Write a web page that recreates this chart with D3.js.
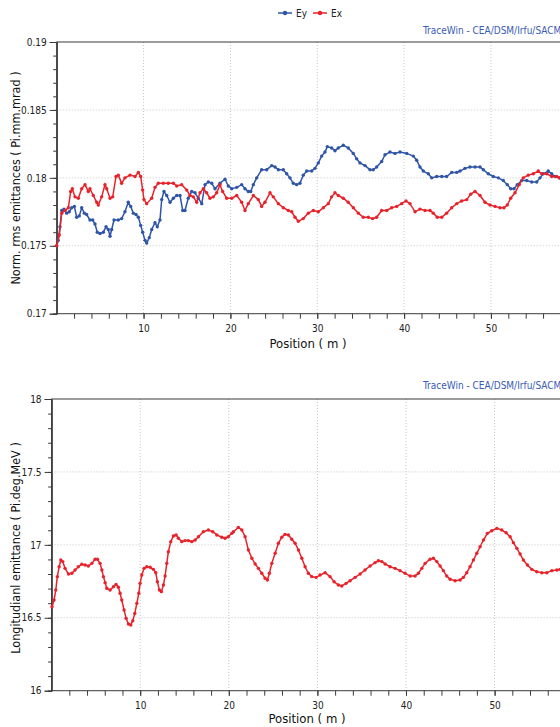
<!DOCTYPE html>
<html><head><meta charset="utf-8">
<script src="https://cdn.jsdelivr.net/npm/d3@7"></script>
<style>
html,body{margin:0;padding:0;background:#fff;overflow:hidden}
svg{display:block}
text{font-family:"DejaVu Sans Condensed","Liberation Sans",sans-serif;font-stretch:condensed}
</style></head>
<body><svg id="c" width="560" height="727"></svg>
<script>
// ---- data ----
const eyPos = [0.00,0.18,0.38,0.58,0.84,1.15,1.45,1.73,2.03,2.30,2.60,2.88,3.18,3.45,3.83,4.15,4.41,4.67,4.99,5.37,5.68,5.94,6.14,6.33,6.60,7.09,7.48,7.86,8.24,8.52,8.82,9.13,9.40,9.67,9.90,10.17,10.36,10.66,10.94,11.32,11.58,11.89,12.09,12.35,12.67,13.05,13.43,13.82,14.20,14.51,14.77,15.15,15.54,15.92,16.30,16.70,17.08,17.46,17.85,18.23,18.80,19.38,19.76,20.15,20.73,21.30,21.68,22.06,22.34,22.64,23.03,23.60,24.18,24.76,25.14,25.52,26.09,26.48,26.86,27.24,27.63,28.01,28.39,28.79,29.36,29.74,30.12,30.51,30.89,31.16,31.66,32.04,32.42,33.00,33.57,34.15,34.54,34.92,35.50,36.07,36.45,36.84,37.42,37.80,38.37,38.95,39.53,40.30,41.06,41.45,41.83,42.21,42.79,43.18,43.75,44.33,44.90,45.48,46.06,46.44,47.01,47.59,48.17,48.74,49.12,49.69,50.27,50.85,51.42,51.88,52.27,52.65,53.03,53.54,54.12,54.69,55.27,55.65,56.03,56.60,56.99,57.37,57.87];
const eyVal = [0.1750,0.1754,0.1764,0.1776,0.1777,0.1774,0.1775,0.1778,0.1779,0.1771,0.1772,0.1778,0.1774,0.1773,0.1769,0.1769,0.1766,0.1760,0.1759,0.1760,0.1764,0.1762,0.1757,0.1762,0.1769,0.1769,0.1770,0.1775,0.1782,0.1779,0.1774,0.1773,0.1771,0.1765,0.1760,0.1754,0.1752,0.1756,0.1762,0.1767,0.1764,0.1769,0.1784,0.1790,0.1787,0.1782,0.1785,0.1787,0.1787,0.1776,0.1776,0.1785,0.1790,0.1789,0.1785,0.1781,0.1795,0.1797,0.1796,0.1792,0.1796,0.1799,0.1794,0.1792,0.1793,0.1795,0.1792,0.1790,0.1790,0.1795,0.1800,0.1806,0.1806,0.1809,0.1808,0.1806,0.1806,0.1803,0.1800,0.1796,0.1795,0.1796,0.1802,0.1805,0.1805,0.1807,0.1811,0.1816,0.1819,0.1823,0.1822,0.1820,0.1822,0.1824,0.1822,0.1818,0.1814,0.1811,0.1809,0.1806,0.1806,0.1808,0.1812,0.1817,0.1819,0.1818,0.1819,0.1818,0.1816,0.1813,0.1808,0.1805,0.1803,0.1800,0.1801,0.1801,0.1801,0.1804,0.1804,0.1805,0.1807,0.1808,0.1808,0.1808,0.1806,0.1803,0.1801,0.1800,0.1798,0.1795,0.1792,0.1792,0.1795,0.1798,0.1798,0.1797,0.1797,0.1800,0.1803,0.1805,0.1803,0.1801,0.1800];
const exPos = [0.00,0.30,0.58,0.96,1.34,1.61,1.80,2.11,2.49,2.88,3.26,3.64,3.83,4.21,4.61,4.79,5.18,5.56,5.76,6.14,6.45,6.83,7.09,7.48,7.86,8.44,9.02,9.40,9.67,9.90,10.05,10.36,10.94,11.32,11.70,12.27,12.85,13.43,13.82,14.39,14.97,15.35,15.73,16.12,16.50,16.88,17.27,17.65,18.03,18.42,18.80,19.11,19.57,20.15,20.73,21.30,21.68,22.06,22.64,23.21,23.60,23.98,24.56,24.94,25.52,26.09,26.67,27.06,27.44,27.82,28.39,28.97,29.55,30.12,30.70,31.27,31.66,32.04,32.42,33.00,33.57,34.15,34.73,35.30,35.88,36.38,36.84,37.42,38.00,38.57,39.15,39.72,40.22,40.68,41.26,41.83,42.41,42.98,43.36,43.82,44.33,44.90,45.48,46.06,46.63,47.21,47.67,48.16,48.74,49.32,49.89,50.47,51.04,51.50,51.88,52.27,52.77,53.26,53.72,54.30,54.88,55.45,55.84,56.42,56.99,57.57,57.87];
const exVal = [0.1750,0.1758,0.1774,0.1776,0.1778,0.1790,0.1792,0.1786,0.1785,0.1792,0.1795,0.1790,0.1792,0.1787,0.1782,0.1780,0.1786,0.1795,0.1792,0.1785,0.1786,0.1801,0.1802,0.1796,0.1800,0.1802,0.1801,0.1804,0.1801,0.1791,0.1784,0.1781,0.1785,0.1793,0.1796,0.1796,0.1796,0.1796,0.1794,0.1795,0.1791,0.1787,0.1786,0.1782,0.1789,0.1792,0.1789,0.1785,0.1786,0.1789,0.1795,0.1790,0.1785,0.1785,0.1787,0.1782,0.1776,0.1781,0.1787,0.1784,0.1779,0.1782,0.1789,0.1786,0.1781,0.1778,0.1776,0.1775,0.1771,0.1768,0.1770,0.1774,0.1776,0.1775,0.1778,0.1781,0.1786,0.1789,0.1787,0.1785,0.1782,0.1778,0.1774,0.1771,0.1771,0.1770,0.1771,0.1776,0.1776,0.1778,0.1779,0.1781,0.1783,0.1781,0.1775,0.1777,0.1776,0.1776,0.1774,0.1771,0.1771,0.1774,0.1778,0.1781,0.1783,0.1784,0.1788,0.1790,0.1787,0.1782,0.1780,0.1779,0.1778,0.1778,0.1780,0.1785,0.1789,0.1795,0.1800,0.1802,0.1803,0.1805,0.1803,0.1803,0.1801,0.1801,0.1800];
const elPos = [0.05,0.28,0.47,0.65,0.85,1.04,1.26,1.52,1.90,2.28,2.65,3.02,3.41,3.78,4.15,4.54,4.91,5.17,5.47,5.67,5.85,6.04,6.23,6.60,6.98,7.28,7.54,7.73,7.92,8.18,8.41,8.67,8.94,9.16,9.39,9.62,9.84,9.99,10.18,10.44,10.74,11.12,11.49,11.76,11.94,12.17,12.39,12.62,12.81,13.00,13.18,13.45,13.75,14.05,14.31,14.70,15.07,15.44,15.82,16.20,16.57,17.13,17.70,18.19,18.65,19.21,19.58,19.95,20.34,20.52,21.08,21.47,21.84,22.21,22.60,22.97,23.34,23.72,24.10,24.36,24.58,24.85,25.23,25.60,25.98,26.35,26.73,27.11,27.48,27.86,28.24,28.61,28.98,29.37,29.85,30.30,30.87,31.43,31.88,32.37,32.75,33.24,33.69,34.26,34.82,35.38,35.95,36.51,36.88,37.27,37.64,38.20,38.77,39.33,39.90,40.47,41.03,41.40,41.78,42.16,42.72,43.09,43.48,43.85,44.22,44.60,44.98,45.54,46.11,46.48,46.86,47.23,47.61,47.99,48.36,48.74,49.19,49.68,50.25,50.81,51.30,51.75,52.12,52.51,52.88,53.25,53.70,54.20,54.76,55.33,55.89,56.46,57.02,57.39];
const elVal = [16.576,16.622,16.690,16.782,16.850,16.896,16.885,16.839,16.800,16.805,16.828,16.850,16.867,16.862,16.855,16.873,16.901,16.901,16.873,16.828,16.782,16.741,16.702,16.690,16.713,16.729,16.709,16.668,16.622,16.553,16.496,16.457,16.450,16.480,16.530,16.599,16.668,16.736,16.793,16.839,16.850,16.846,16.832,16.809,16.747,16.690,16.679,16.725,16.786,16.873,16.953,17.022,17.061,17.068,17.045,17.022,17.029,17.029,17.022,17.033,17.056,17.090,17.102,17.090,17.068,17.052,17.045,17.056,17.079,17.090,17.120,17.102,17.056,16.965,16.908,16.869,16.839,16.805,16.771,16.759,16.805,16.873,16.942,17.011,17.052,17.072,17.068,17.038,17.011,16.965,16.908,16.850,16.805,16.782,16.777,16.793,16.809,16.782,16.747,16.725,16.718,16.736,16.754,16.777,16.800,16.828,16.855,16.878,16.891,16.885,16.869,16.850,16.839,16.823,16.805,16.786,16.786,16.805,16.839,16.873,16.901,16.908,16.885,16.855,16.823,16.786,16.764,16.754,16.759,16.777,16.809,16.850,16.896,16.942,16.987,17.033,17.079,17.097,17.113,17.102,17.083,17.056,17.015,16.976,16.937,16.896,16.862,16.832,16.816,16.809,16.809,16.823,16.828,16.832];

const topMajor = [0.17,0.175,0.18,0.185,0.19];
const topMajorLabels = ["0.17","0.175","0.18","0.185","0.19"];
const botMajor = [16,16.5,17,17.5,18];
const botMajorLabels = ["16","16.5","17","17.5","18"];
const xMajor = [10,20,30,40,50,60];
const xLabeled = [10,20,30,40,50];

const BLUE = "#2f55a8", RED = "#e8222a", AX = "#3a3a3a", GRID = "#c4c4c4";
const svg = d3.select("#c");

function panel(o){
  const g = svg.append("g");
  const x = d3.scaleLinear().domain([0,62]).range([o.left, o.left + 62*o.pxm]);
  const y = d3.scaleLinear().domain(o.yDom).range([o.bottom, o.top]);
  const R = x.range()[1];
  // grid
  g.append("g").selectAll("line").data(o.yMajor.slice(1,-1)).join("line")
    .attr("x1",o.left).attr("x2",R).attr("y1",d=>y(d)).attr("y2",d=>y(d))
    .attr("stroke",GRID).attr("stroke-dasharray","1,2");
  g.append("g").selectAll("line").data(xMajor).join("line")
    .attr("x1",d=>x(d)).attr("x2",d=>x(d)).attr("y1",o.top).attr("y2",o.bottom)
    .attr("stroke",GRID).attr("stroke-dasharray","1,2");
  // frame
  g.append("rect").attr("x",o.left).attr("y",o.top).attr("width",R-o.left).attr("height",o.bottom-o.top)
    .attr("fill","none").attr("stroke",AX).attr("stroke-width",1);
  // y axis minor
  const yMinor = d3.range(0, Math.round((o.yDom[1]-o.yDom[0])/o.yMinorStep)+1).map(i=>o.yDom[0]+i*o.yMinorStep);
  const ya = g.append("g").attr("transform",`translate(${o.left},0)`);
  ya.call(d3.axisLeft(y).tickValues(yMinor).tickSize(3.5).tickFormat(""));
  const yb = g.append("g").attr("transform",`translate(${o.left},0)`);
  yb.call(d3.axisLeft(y).tickValues(o.yMajor).tickSize(7).tickPadding(3).tickFormat((d,i)=>o.yLabels[i]));
  [ya,yb].forEach(a=>{a.select(".domain").attr("stroke",AX);a.selectAll("line").attr("stroke",AX);});
  yb.selectAll("text").attr("font-size",10).attr("fill","#222");
  // x axis
  const xa = g.append("g").attr("transform",`translate(0,${o.bottom})`);
  xa.call(d3.axisBottom(x).tickValues(d3.range(2,62,2)).tickSize(5).tickFormat(""));
  xa.select(".domain").remove();
  xa.selectAll("line").attr("stroke",AX);
  const xl = g.append("g").attr("transform",`translate(0,${o.bottom})`);
  xl.call(d3.axisBottom(x).tickValues(xLabeled).tickSize(5).tickPadding(6));
  xl.select(".domain").remove();
  xl.selectAll("line").attr("stroke",AX);
  xl.selectAll("text").attr("font-size",10).attr("fill","#222");
  // titles
  svg.append("text").attr("x",o.xTitleX).attr("y",o.xTitleY).attr("text-anchor","middle")
    .attr("font-size",13).attr("fill","#111").text("Position ( m )");
  svg.append("text").attr("transform",`translate(20,${o.yTitleY}) rotate(-90)`).attr("text-anchor","middle")
    .attr("font-size",12.5).attr("fill","#111").text(o.yTitle);
  svg.append("text").attr("x",o.twX).attr("y",o.twY).attr("font-size",10).attr("fill","#3a5bb5")
    .text("TraceWin - CEA/DSM/Irfu/SACM");
  // series
  o.series.forEach(s=>{
    const pts = s.xs.map((d,i)=>[d,s.ys[i]]);
    g.append("path").datum(pts).attr("fill","none").attr("stroke",s.color).attr("stroke-width",1.5)
      .attr("d",d3.line().x(d=>x(d[0])).y(d=>y(d[1])));
    g.append("g").selectAll("circle").data(pts).join("circle")
      .attr("cx",d=>x(d[0])).attr("cy",d=>y(d[1])).attr("r",1.7).attr("fill",s.color);
  });
}

panel({left:56.7, pxm:8.685, top:42, bottom:313.7, yDom:[0.17,0.19], yMajor:topMajor, yLabels:topMajorLabels,
  yMinorStep:0.001, xTitleX:308, xTitleY:348, yTitleY:178, twX:423, twY:34,
  yTitle:"Norm. rms emittances ( Pi.mm.mrad )",
  series:[{xs:eyPos, ys:eyVal, color:BLUE},{xs:exPos, ys:exVal, color:RED}]});

panel({left:51.6, pxm:8.86, top:399, bottom:690.7, yDom:[16,18], yMajor:botMajor, yLabels:botMajorLabels,
  yMinorStep:0.1, xTitleX:307, xTitleY:723, yTitleY:548, twX:423, twY:389,
  yTitle:"Longitudianl emittance ( Pi.deg.MeV )",
  series:[{xs:elPos, ys:elVal, color:RED}]});

// legend
const leg = svg.append("g");
[["Ey",BLUE,278],["Ex",RED,313]].forEach(([t,c,x0])=>{
  leg.append("line").attr("x1",x0).attr("x2",x0+14).attr("y1",13).attr("y2",13).attr("stroke",c).attr("stroke-width",1.5);
  leg.append("circle").attr("cx",x0+7).attr("cy",13).attr("r",2.2).attr("fill",c);
  leg.append("text").attr("x",x0+18).attr("y",17).attr("font-size",10).attr("fill","#222").text(t);
});
</script></body></html>
